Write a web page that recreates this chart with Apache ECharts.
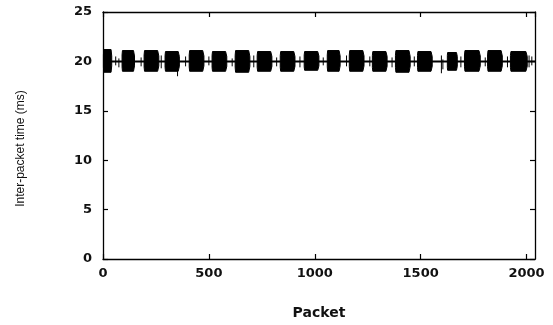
<!DOCTYPE html>
<html>
<head>
<meta charset="utf-8">
<script src="https://cdn.jsdelivr.net/npm/echarts@6/dist/echarts.min.js"></script>
<style>
  html, body { margin: 0; padding: 0; background: #fff; }
  #chart { width: 553px; height: 325px; }
</style>
</head>
<body>
<div id="chart"></div>
<script>
// packet axis ticks and value axis ticks
const xTicks = [0, 500, 1000, 1500, 2000];
const yTicks = [0, 5, 10, 15, 20, 25];

// jitter bursts: [startPacket, endPacket, low ms, high ms]
const bursts = [
  [2, 42, 18.9, 21.2],
  [90, 150, 19.0, 21.1],
  [194, 265, 19.0, 21.1],
  [293, 362, 19.0, 21.0],
  [407, 478, 19.0, 21.1],
  [515, 586, 19.0, 21.0],
  [624, 695, 18.9, 21.1],
  [728, 799, 19.0, 21.0],
  [837, 908, 19.0, 21.0],
  [950, 1021, 19.1, 21.0],
  [1059, 1121, 19.0, 21.1],
  [1163, 1234, 19.0, 21.1],
  [1272, 1343, 19.0, 21.0],
  [1381, 1452, 18.9, 21.1],
  [1485, 1556, 19.0, 21.0],
  [1626, 1674, 19.1, 20.9],
  [1707, 1783, 19.0, 21.1],
  [1816, 1887, 19.0, 21.1],
  [1924, 2005, 19.0, 21.0]
];

// isolated spikes between bursts and on burst edges: [packet, low ms, high ms]
const spikes = [
  [60, 19.6, 20.5],
  [75, 19.4, 20.3],
  [180, 19.5, 20.4],
  [275, 19.3, 20.6],
  [352, 18.5, 20.2],
  [390, 19.5, 20.5],
  [500, 19.6, 20.5],
  [610, 19.5, 20.3],
  [712, 19.4, 20.6],
  [820, 19.5, 20.4],
  [930, 19.4, 20.5],
  [1040, 19.6, 20.4],
  [1150, 19.5, 20.6],
  [1260, 19.5, 20.5],
  [1365, 19.4, 20.4],
  [1470, 19.5, 20.5],
  [1598, 18.8, 20.6],
  [1605, 19.2, 20.2],
  [1690, 19.4, 20.5],
  [1805, 19.5, 20.4],
  [1910, 19.4, 20.5],
  [2012, 19.4, 20.6],
  [2025, 19.6, 20.5]
];

// steady inter-packet time between bursts
const baseline = [[0, 20.0], [2040, 20.0]];

const tickFont = { fontFamily: 'DejaVu Sans', fontWeight: 'bold', fontSize: 13, color: '#111' };

const chart = echarts.init(document.getElementById('chart'), null, { renderer: 'canvas' });

const renderBurst = (params, api) => {
  const s = api.value(0), e = api.value(1), lo = api.value(2), hi = api.value(3);
  const w = e - s;
  const mid = (lo + hi) / 2;
  const pts = [
    [s, mid + 0.6], [s + w * 0.03, hi], [e - w * 0.1, hi], [e - w * 0.02, mid + 0.5],
    [e - w * 0.02, mid - 0.5], [e - w * 0.1, lo], [s + w * 0.03, lo], [s, mid - 0.6]
  ].map(p => api.coord(p));
  return {
    type: 'polygon',
    shape: { points: pts },
    style: { fill: '#000', stroke: '#000', lineWidth: 1 }
  };
};

const renderSpike = (params, api) => {
  const a = api.coord([api.value(0), api.value(1)]);
  const b = api.coord([api.value(0), api.value(2)]);
  return {
    type: 'line',
    shape: { x1: a[0], y1: a[1], x2: b[0], y2: b[1] },
    style: { stroke: '#000', lineWidth: 1 }
  };
};

const xCommon = {
  type: 'value',
  min: 0,
  max: 2040,
  interval: 500,
  axisLine: { show: true, onZero: false, lineStyle: { color: '#000', width: 1.3 } },
  axisTick: { show: true, inside: true, length: 5, lineStyle: { color: '#000', width: 1.2 } },
  splitLine: { show: false }
};

const yCommon = {
  type: 'value',
  min: 0,
  max: 25,
  interval: 5,
  axisLine: { show: true, onZero: false, lineStyle: { color: '#000', width: 1.3 } },
  axisTick: { show: true, inside: true, length: 5, lineStyle: { color: '#000', width: 1.2 } },
  splitLine: { show: false }
};

chart.setOption({
  animation: false,
  grid: { left: 103, right: 18, top: 12, bottom: 66, containLabel: false },
  xAxis: [
    {
      ...xCommon,
      position: 'bottom',
      axisLabel: {
        ...tickFont,
        margin: 8,
        showMaxLabel: false,
        formatter: v => (xTicks.includes(v) ? String(v) : '')
      },
      name: 'Packet',
      nameLocation: 'middle',
      nameGap: 47,
      nameTextStyle: { fontFamily: 'DejaVu Sans', fontWeight: 'bold', fontSize: 14, color: '#111' }
    },
    { ...xCommon, position: 'top', axisLabel: { show: false } }
  ],
  yAxis: [
    {
      ...yCommon,
      position: 'left',
      axisLabel: {
        ...tickFont,
        margin: 11,
        formatter: v => (yTicks.includes(v) ? String(v) : '')
      },
      name: 'Inter-packet time (ms)',
      nameLocation: 'middle',
      nameGap: 76,
      nameRotate: 90,
      nameTextStyle: {
        fontFamily: 'Liberation Sans Narrow, Liberation Sans',
        fontSize: 12,
        color: '#111',
        padding: [0, 26, 0, 0]
      }
    },
    { ...yCommon, position: 'right', axisLabel: { show: false } }
  ],
  series: [
    {
      name: 'baseline',
      type: 'line',
      data: baseline,
      symbol: 'none',
      lineStyle: { color: '#000', width: 2 }
    },
    {
      name: 'spikes',
      type: 'custom',
      data: spikes,
      renderItem: renderSpike,
      encode: { x: 0, y: [1, 2] }
    },
    {
      name: 'bursts',
      type: 'custom',
      data: bursts,
      renderItem: renderBurst,
      encode: { x: [0, 1], y: [2, 3] }
    }
  ]
});
</script>
</body>
</html>
